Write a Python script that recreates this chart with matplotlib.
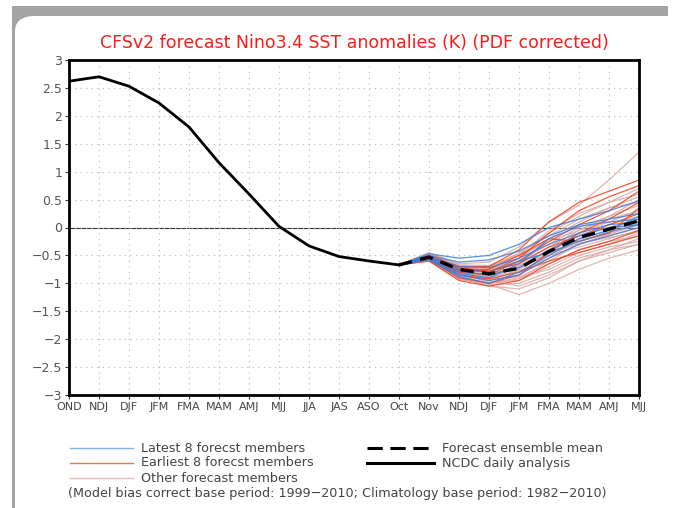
import numpy as np
import matplotlib
matplotlib.use('Agg')
import matplotlib.pyplot as plt
from matplotlib.patches import Rectangle, FancyBboxPatch
from matplotlib.lines import Line2D

# x-axis season labels
seasons = ['OND', 'NDJ', 'DJF', 'JFM', 'FMA', 'MAM', 'AMJ', 'MJJ', 'JJA', 'JAS',
           'ASO', 'Oct', 'Nov', 'NDJ', 'DJF', 'JFM', 'FMA', 'MAM', 'AMJ', 'MJJ']
yticks = [-3, -2.5, -2, -1.5, -1, -0.5, 0, 0.5, 1, 1.5, 2, 2.5, 3]

# observed (NCDC daily analysis), OND .. Oct
obs = [2.62, 2.70, 2.53, 2.23, 1.80, 1.16, 0.60, 0.02, -0.33, -0.52, -0.60, -0.67]

# forecast members, Nov .. MJJ (all start from the Oct value)
latest = [
    [-0.47, -0.55, -0.50, -0.30, 0.00, 0.15, 0.30, 0.48],
    [-0.50, -0.62, -0.58, -0.42, -0.15, 0.05, 0.15, 0.25],
    [-0.52, -0.70, -0.72, -0.55, -0.30, -0.10, 0.05, 0.10],
    [-0.55, -0.78, -0.85, -0.72, -0.40, -0.15, 0.00, 0.05],
    [-0.55, -0.85, -0.95, -0.85, -0.55, -0.30, -0.15, 0.00],
    [-0.57, -0.82, -0.90, -0.65, -0.20, 0.02, 0.10, 0.15],
    [-0.53, -0.75, -0.80, -0.60, -0.45, -0.25, -0.08, 0.05],
    [-0.58, -0.88, -1.00, -0.80, -0.50, -0.20, -0.05, 0.20],
]
earliest = [
    [-0.50, -0.70, -0.70, -0.40, 0.10, 0.45, 0.65, 0.85],
    [-0.52, -0.75, -0.80, -0.55, -0.10, 0.30, 0.55, 0.75],
    [-0.55, -0.80, -0.85, -0.60, -0.25, 0.05, 0.30, 0.65],
    [-0.58, -0.90, -1.00, -0.85, -0.45, -0.10, 0.15, 0.45],
    [-0.52, -0.72, -0.78, -0.65, -0.35, -0.15, 0.05, 0.25],
    [-0.60, -0.95, -1.05, -0.95, -0.65, -0.40, -0.25, -0.05],
    [-0.55, -0.78, -0.75, -0.50, -0.20, -0.25, -0.10, 0.35],
    [-0.57, -0.85, -0.92, -0.80, -0.60, -0.45, -0.30, -0.15],
]
others = [
    [-0.45, -0.65, -0.62, -0.35, 0.10, 0.40, 0.85, 1.35],
    [-0.48, -0.68, -0.72, -0.50, -0.05, 0.25, 0.45, 0.60],
    [-0.50, -0.72, -0.78, -0.60, -0.30, 0.00, 0.20, 0.40],
    [-0.52, -0.80, -0.95, -1.05, -0.85, -0.60, -0.45, -0.30],
    [-0.55, -0.85, -1.02, -1.20, -1.00, -0.75, -0.55, -0.40],
    [-0.58, -0.90, -1.05, -1.10, -0.90, -0.60, -0.40, -0.20],
    [-0.50, -0.75, -0.88, -0.80, -0.55, -0.30, -0.12, 0.05],
    [-0.53, -0.80, -0.90, -0.70, -0.40, -0.10, 0.10, 0.30],
    [-0.55, -0.82, -0.98, -0.95, -0.70, -0.45, -0.30, -0.10],
    [-0.47, -0.70, -0.76, -0.55, -0.20, 0.10, 0.35, 0.55],
    [-0.60, -0.92, -1.00, -0.90, -0.75, -0.50, -0.35, -0.25],
    [-0.52, -0.78, -0.84, -0.68, -0.40, -0.15, 0.00, 0.15],
    [-0.56, -0.86, -0.95, -0.75, -0.45, -0.25, -0.10, 0.08],
    [-0.49, -0.73, -0.80, -0.62, -0.35, -0.05, 0.20, 0.50],
    [-0.54, -0.76, -0.82, -0.72, -0.50, -0.35, -0.20, -0.05],
    [-0.58, -0.88, -1.00, -0.92, -0.60, -0.30, -0.15, 0.00],
    [-0.51, -0.74, -0.74, -0.45, -0.15, 0.15, 0.35, 0.45],
    [-0.53, -0.83, -0.93, -0.88, -0.65, -0.40, -0.25, -0.15],
    [-0.57, -0.84, -0.90, -0.78, -0.55, -0.20, 0.05, 0.20],
    [-0.50, -0.70, -0.70, -0.50, -0.25, -0.05, 0.15, 0.30],
    [-0.55, -0.80, -0.87, -0.70, -0.48, -0.28, -0.18, -0.08],
    [-0.59, -0.93, -1.02, -1.00, -0.80, -0.55, -0.40, -0.30],
    [-0.46, -0.67, -0.68, -0.48, -0.10, 0.20, 0.45, 0.70],
    [-0.54, -0.79, -0.86, -0.74, -0.45, -0.22, -0.05, 0.10],
]
ens_mean = [-0.53, -0.75, -0.83, -0.73, -0.43, -0.18, -0.03, 0.12]

W, H = 675, 508
fig = plt.figure(figsize=(W / 100, H / 100), dpi=100)

# screenshot window frame
fig.patches.append(Rectangle((12 / W, 0), 656 / W, 1 - 6 / H, transform=fig.transFigure,
                             facecolor='#a3a3a3', edgecolor='none', zorder=-2))
fig.patches.append(FancyBboxPatch((15 / W, -0.1), 1.0, 1 - 16 / H + 0.1,
                                  boxstyle='round,pad=0,rounding_size=0.03',
                                  transform=fig.transFigure, facecolor='white',
                                  edgecolor='none', zorder=-1))

ax = fig.add_axes([69 / W, 1 - 395 / H, 570 / W, 335 / H])
ax.patch.set_alpha(0)
x = np.arange(len(seasons))
i_oct = seasons.index('Oct')
xf = x[i_oct:]

c_other = '#d9aaa4'
c_red = '#f0401c'
c_blue = '#3d7ddb'

for m in others:
    ax.plot(xf, [obs[-1]] + m, color=c_other, lw=0.9, alpha=0.85, zorder=2)
for m in earliest:
    ax.plot(xf, [obs[-1]] + m, color=c_red, lw=0.9, alpha=0.85, zorder=3)
for m in latest:
    ax.plot(xf, [obs[-1]] + m, color=c_blue, lw=0.9, alpha=0.85, zorder=3)

ax.plot(x[:len(obs)], obs, color='black', lw=2, zorder=5)
ax.plot(xf, [obs[-1]] + ens_mean, color='black', lw=2.4, dashes=(4, 2.5), zorder=6)

ax.axhline(0, color='#333333', lw=0.8, zorder=1)

ax.set_xlim(0, len(seasons) - 1)
ax.set_ylim(-3, 3)
ax.set_xticks(x)
ax.set_xticklabels(seasons, fontsize=8, color='#444444')
ax.set_yticks(yticks)
ax.set_yticklabels([('%g' % v).replace('-', '\u2212') for v in yticks],
                   fontsize=9, color='#555555')
ax.tick_params(axis='both', length=3, width=0.8, color='#333333', pad=2)
ax.grid(True, color='#b5b5b5', lw=0.8, linestyle=(0, (1, 4)))
for s in ax.spines.values():
    s.set_linewidth(2)
    s.set_color('black')
    s.set_zorder(10)

fig.text(354 / W, 1 - 43 / H, 'CFSv2 forecast Nino3.4 SST anomalies (K) (PDF corrected)',
         color='#ff1a1a', fontsize=12.5, ha='center', va='center')

# legend
def leg(x0, x1, y, text, **kw):
    fig.add_artist(Line2D([x0 / W, x1 / W], [1 - y / H, 1 - y / H], **kw))
    fig.text((x1 + 8) / W, 1 - y / H, text, fontsize=9.2, color='#444444', va='center')

leg(70, 133, 448, 'Latest 8 forecst members', color='#86aee8', lw=1)
leg(70, 133, 463, 'Earliest 8 forecst members', color='#f07050', lw=1)
leg(70, 133, 478, 'Other forecast members', color='#e6bdb6', lw=1)
leg(367, 434, 448, 'Forecast ensemble mean', color='black', lw=2.2, dashes=(5, 2.5))
leg(367, 434, 463, 'NCDC daily analysis', color='black', lw=2.2)
fig.text(68 / W, 1 - 494 / H,
         '(Model bias correct base period: 1999\u22122010; Climatology base period: 1982\u22122010)',
         fontsize=9.2, color='#444444', va='center')

fig.savefig('out.png', dpi=100)
